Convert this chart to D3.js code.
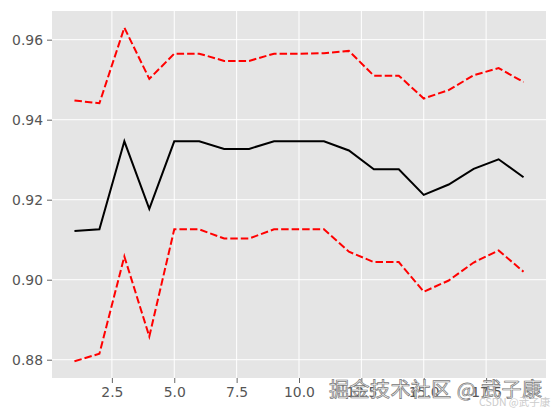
<!DOCTYPE html>
<html>
<head>
<meta charset="utf-8">
<script src="https://cdn.jsdelivr.net/npm/d3@7"></script>
<style>
	body { margin: 0; background: #fff; }
	text { font-family: 'DejaVu Sans', sans-serif; }
</style>
</head>
<body>
<script>
const xs = [1, 2, 3, 4, 5, 6, 7, 8, 9, 10, 11, 12, 13, 14, 15, 16, 17, 18, 19]
const meanScore = [0.9122, 0.9126, 0.9346, 0.9177, 0.9346, 0.9346, 0.9327, 0.9327, 0.9346, 0.9346,
	0.9346, 0.9323, 0.9276, 0.9276, 0.9212, 0.9238, 0.9277, 0.9301, 0.9256]
const upperScore = [0.9448, 0.9441, 0.9630, 0.9502, 0.9565, 0.9565, 0.9547, 0.9547, 0.9565, 0.9565,
	0.9566, 0.9572, 0.9510, 0.9510, 0.9453, 0.9474, 0.9511, 0.9529, 0.9494]
const lowerScore = [0.8796, 0.8815, 0.9058, 0.8858, 0.9126, 0.9126, 0.9103, 0.9103, 0.9126, 0.9126,
	0.9126, 0.9070, 0.9044, 0.9044, 0.8970, 0.8998, 0.9043, 0.9073, 0.9020]
const xTicks = [2.5, 5.0, 7.5, 10.0, 12.5, 15.0, 17.5]
const yTicks = [0.88, 0.90, 0.92, 0.94, 0.96]

const W = 556, H = 413
const margin = {top: 11, right: 10, bottom: 35, left: 52}
const width = W - margin.left - margin.right
const height = H - margin.top - margin.bottom

const svg = d3.select('body').append('svg')
	.attr('width', W)
	.attr('height', H)

const g = svg.append('g')
	.attr('transform', `translate(${margin.left},${margin.top})`)

// matplotlib style 5% margins
const xPad = (d3.max(xs) - d3.min(xs)) * 0.05
const yMin = d3.min(lowerScore), yMax = d3.max(upperScore)
const yPad = (yMax - yMin) * 0.05

const x = d3.scaleLinear()
	.domain([d3.min(xs) - xPad, d3.max(xs) + xPad])
	.range([0, width])

const y = d3.scaleLinear()
	.domain([yMin - yPad, yMax + yPad])
	.range([height, 0])

g.append('rect')
	.attr('width', width)
	.attr('height', height)
	.attr('fill', '#e5e5e5')

g.append('g')
	.selectAll('line')
	.data(xTicks)
	.join('line')
		.attr('x1', d => x(d)).attr('x2', d => x(d))
		.attr('y1', 0).attr('y2', height)
		.attr('stroke', '#fff')
		.attr('stroke-width', 1)

g.append('g')
	.selectAll('line')
	.data(yTicks)
	.join('line')
		.attr('y1', d => y(d)).attr('y2', d => y(d))
		.attr('x1', 0).attr('x2', width)
		.attr('stroke', '#fff')
		.attr('stroke-width', 1)

const xAxis = d3.axisBottom(x)
	.tickValues(xTicks)
	.tickFormat(d3.format('.1f'))
	.tickSize(5)
	.tickPadding(4)

const yAxis = d3.axisLeft(y)
	.tickValues(yTicks)
	.tickFormat(d3.format('.2f'))
	.tickSize(5)
	.tickPadding(4)

const styleAxis = sel => {
	sel.select('.domain').remove()
	sel.selectAll('line').attr('stroke', '#555').attr('stroke-width', 0.9)
	sel.selectAll('text').attr('fill', '#555').style('font-size', '13.9px')
}

g.append('g')
	.attr('transform', `translate(0,${height})`)
	.call(xAxis)
	.call(styleAxis)

g.append('g')
	.call(yAxis)
	.call(styleAxis)

const line = vals => d3.line()
	.x((d, i) => x(xs[i]))
	.y(d => y(d))(vals)

g.append('path')
	.attr('d', line(meanScore))
	.attr('fill', 'none')
	.attr('stroke', '#000')
	.attr('stroke-width', 2)

;[upperScore, lowerScore].forEach(vals => {
	g.append('path')
		.attr('d', line(vals))
		.attr('fill', 'none')
		.attr('stroke', '#f00')
		.attr('stroke-width', 2)
		.attr('stroke-dasharray', '7.5,3')
})

// watermarks
svg.append('text')
	.attr('x', 329)
	.attr('y', 397)
	.attr('textLength', 213)
	.style('font-family', "'Noto Sans CJK SC', sans-serif")
	.style('font-size', '20px')
	.attr('fill', '#f2f2f2')
	.attr('stroke', '#777')
	.attr('stroke-width', 0.7)
	.text('掘金技术社区 @ 武子康')

svg.append('text')
	.attr('x', 479)
	.attr('y', 406)
	.style('font-family', "'Noto Sans CJK SC', sans-serif")
	.style('font-size', '10.5px')
	.attr('fill', '#ccc')
	.text('CSDN @武子康')
</script>
</body>
</html>
